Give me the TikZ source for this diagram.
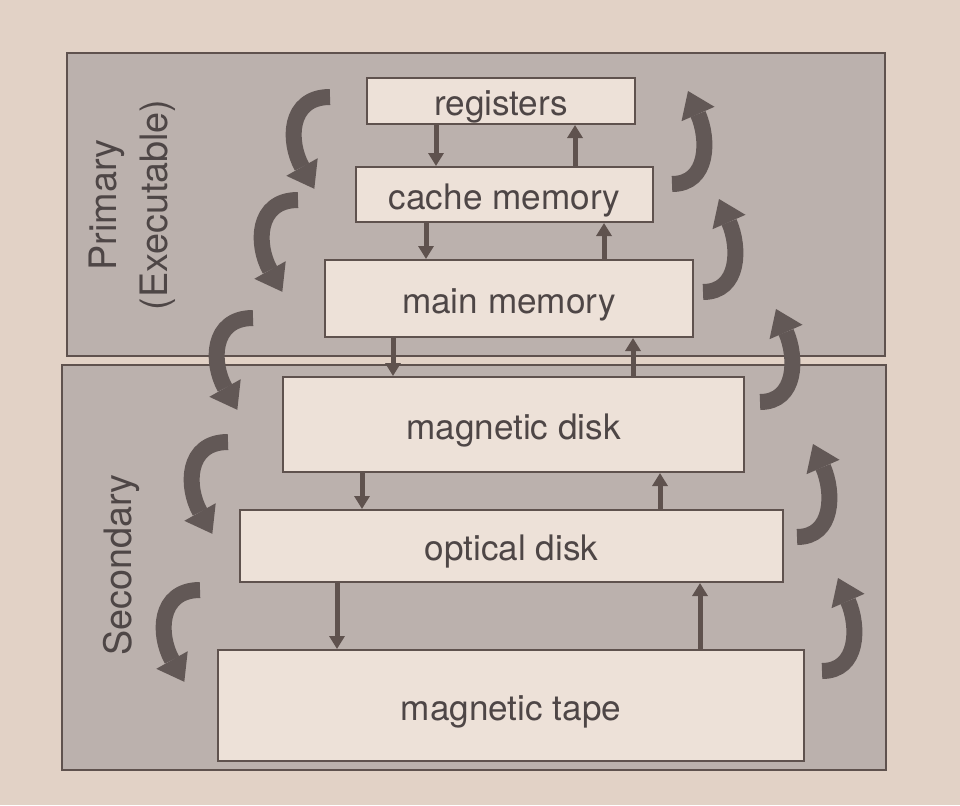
\documentclass[tikz,border=0pt]{standalone}
\usepackage{fontspec}
\setmainfont{TeX Gyre Heros}
\usepackage{tikz}
\definecolor{pagebg}{RGB}{226,210,198}
\definecolor{panelgray}{RGB}{187,177,173}
\definecolor{boxfill}{RGB}{237,225,216}
\definecolor{inkgray}{RGB}{95,82,78}
\definecolor{textgray}{RGB}{78,70,70}
\definecolor{swoopgray}{RGB}{98,88,86}
\usetikzlibrary{arrows.meta}
\tikzset{panel/.style={draw=inkgray,line width=0.4mm,fill=panelgray,inner sep=0pt}}
\tikzset{box/.style={draw=inkgray,line width=0.4mm,fill=boxfill,inner sep=0pt,text=textgray,text height=21pt,text depth=4pt,font=\fontsize{20}{24}\selectfont}}
\tikzset{link/.style={draw=inkgray,line width=1mm,-{Triangle[width=3mm,length=2.6mm]}}}
\tikzset{swoop/.style={draw=swoopgray,line width=3.2mm}}
\tikzset{tag/.style={text=textgray,rotate=90,align=center,font=\fontsize{21.5}{29}\selectfont}}
\tikzset{swoopdown/.pic={\draw[swoop] (0,0) .. controls (-42,0) and (-42,45) .. (-28,70);
	\fill[swoopgray] (-12.3,61.2) -- (-43.7,78.8) -- (-15.7,91.8) -- cycle;}}
\tikzset{swoopup/.pic={\draw[swoop] (0,0) .. controls (37,0) and (37,-45) .. (26,-70);
	\fill[swoopgray] (42.5,-77.2) -- (9.5,-62.8) -- (16,-93) -- cycle;}}

\begin{document}
\begin{tikzpicture}[x=0.2mm,y=-0.2mm]
		\fill[pagebg] (0,0) rectangle (960,805);
		\node[panel,minimum width=163.6mm,minimum height=60.6mm] (primary) at (476,204.5) {};
		\node[panel,minimum width=164.8mm,minimum height=81mm] (secondary) at (474,567.5) {};
		\node[tag] (primarytag) at (132,205) {Primary\\(Executable)};
		\node[tag] (secondarytag) at (122,565) {Secondary};
		% levels of the hierarchy
		\node[box,minimum width=53.6mm,minimum height=9.2mm] (reg) at (501,101) {registers};
		\node[box,minimum width=59.4mm,minimum height=11mm] (cache) at (504.5,194.5) {cache memory};
		\node[box,minimum width=73.6mm,minimum height=15.4mm] (main) at (509,298.5) {main memory};
		\node[box,minimum width=92.2mm,minimum height=19mm] (disk) at (513.5,424.5) {magnetic disk};
		\node[box,minimum width=108.6mm,minimum height=14.4mm] (optical) at (511.5,546) {optical disk};
		\node[box,minimum width=117.2mm,minimum height=22.2mm] (tape) at (511,705.5) {magnetic tape};
		% transfers between levels
		\path[link] (reg.south -| 436,0) -- (cache.north -| 436,0);
		\path[link] (cache.north -| 575,0) -- (reg.south -| 575,0);
		\path[link] (cache.south -| 426,0) -- (main.north -| 426,0);
		\path[link] (main.north -| 604,0) -- (cache.south -| 604,0);
		\path[link] (main.south -| 393,0) -- (disk.north -| 393,0);
		\path[link] (disk.north -| 633,0) -- (main.south -| 633,0);
		\path[link] (disk.south -| 362,0) -- (optical.north -| 362,0);
		\path[link] (optical.north -| 660,0) -- (disk.south -| 660,0);
		\path[link] (optical.south -| 337,0) -- (tape.north -| 337,0);
		\path[link] (tape.north -| 700,0) -- (optical.south -| 700,0);
		% big curved arrows, left side down
		\pic (down1) at (330,97) {swoopdown};
		\pic (down2) at (298,200) {swoopdown};
		\pic (down3) at (253,318) {swoopdown};
		\pic (down4) at (228,442) {swoopdown};
		\pic (down5) at (200,590) {swoopdown};
		% right side up
		\pic (up1) at (672,184) {swoopup};
		\pic (up2) at (703,292) {swoopup};
		\pic (up3) at (760,402) {swoopup};
		\pic (up4) at (797,537) {swoopup};
		\pic (up5) at (822,671) {swoopup};
	\end{tikzpicture}
\end{document}
